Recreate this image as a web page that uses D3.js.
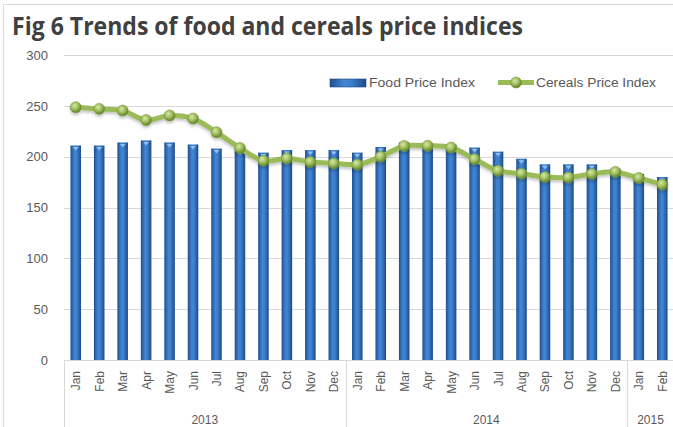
<!DOCTYPE html>
<html>
<head>
<meta charset="utf-8">
<script src="https://cdn.jsdelivr.net/npm/d3@7"></script>
<style>
  body { margin: 0; background: #fff; }
  svg { display: block; }
</style>
</head>
<body>
<svg id="chart" width="673" height="427"></svg>
<script>
var months = ["Jan","Feb","Mar","Apr","May","Jun","Jul","Aug","Sep","Oct","Nov","Dec",
              "Jan","Feb","Mar","Apr","May","Jun","Jul","Aug","Sep","Oct","Nov","Dec",
              "Jan","Feb"];
var years = [
  {label: "2013", from: 0, to: 12},
  {label: "2014", from: 12, to: 24},
  {label: "2015", from: 24, to: 26}
];
var foodIndex = [211, 211, 214, 216, 214, 212, 208, 206, 204, 206.5, 206.5, 206.5,
                 204, 209.5, 214, 213, 212, 209, 205, 198, 192.5, 192.5, 192.5, 188,
                 183, 180];
var cerealsIndex = [248.6, 247, 245.3, 236, 240.5, 237.5, 224, 208.5, 196, 198.2, 194.8, 193.4,
                    192.2, 200, 210.5, 210.7, 209, 197.5, 186.2, 183.3, 180, 179.5, 183, 185,
                    179, 172.6];
var yTicks = [0, 50, 100, 150, 200, 250, 300];

(function () {
  var svg = d3.select("#chart");
  var ids = d3.range(months.length);

  var x = d3.scaleBand().domain(ids).range([64, 674]).paddingInner(0.55).paddingOuter(0.275);
  var y = d3.scaleLinear().domain([0, 300]).range([360, 55]);
  var cx = function (i) { return x(i) + x.bandwidth() / 2; };
  var step = x.step();
  var left = 64;

  var defs = svg.append("defs");
  var bg = defs.append("linearGradient").attr("id", "barGrad").attr("x1", 0).attr("x2", 1).attr("y1", 0).attr("y2", 0);
  bg.append("stop").attr("offset", "0%").attr("stop-color", "#1f4f8f");
  bg.append("stop").attr("offset", "40%").attr("stop-color", "#4186d4");
  bg.append("stop").attr("offset", "60%").attr("stop-color", "#3c7fcc");
  bg.append("stop").attr("offset", "100%").attr("stop-color", "#1d4a86");
  var mg = defs.append("radialGradient").attr("id", "dotGrad").attr("cx", "40%").attr("cy", "35%").attr("r", "65%");
  mg.append("stop").attr("offset", "0%").attr("stop-color", "#d7e8a8");
  mg.append("stop").attr("offset", "55%").attr("stop-color", "#9bbb59");
  mg.append("stop").attr("offset", "100%").attr("stop-color", "#5f7d2a");
  var sh = defs.append("filter").attr("id", "shadow").attr("x", "-10%").attr("y", "-10%").attr("width", "120%").attr("height", "140%");
  sh.append("feDropShadow").attr("dx", 0).attr("dy", 2).attr("stdDeviation", 1.5).attr("flood-color", "#000").attr("flood-opacity", 0.25);

  // frame
  svg.append("path").attr("d", "M3.5,427V4.5H673").attr("fill", "none").attr("stroke", "#d9d9d9");

  // title
  svg.append("text")
    .attr("x", 12).attr("y", 35)
    .attr("font-family", "'Liberation Sans Narrow', 'Open Sans', sans-serif")
    .attr("font-weight", "bold").attr("font-size", 25)
    .attr("fill", "#404040")
    .attr("textLength", 511).attr("lengthAdjust", "spacingAndGlyphs")
    .text("Fig 6 Trends of food and cereals price indices");

  // gridlines
  svg.append("g").selectAll("line").data(yTicks.filter(function (d) { return d > 0; })).join("line")
    .attr("x1", left).attr("x2", 673)
    .attr("y1", function (d) { return Math.round(y(d)) + 0.5; })
    .attr("y2", function (d) { return Math.round(y(d)) + 0.5; })
    .attr("stroke", "#d9d9d9");

  // y axis
  var yAxis = svg.append("g").attr("transform", "translate(" + left + ",0)")
    .call(d3.axisLeft(y).tickValues(yTicks).tickSize(0).tickPadding(16));
  yAxis.select(".domain").remove();
  yAxis.selectAll("text").attr("font-family", "'Liberation Sans Narrow', 'Liberation Sans', sans-serif")
    .attr("font-size", 13).attr("fill", "#595959");

  // bars
  svg.append("g").selectAll("rect").data(foodIndex).join("rect")
    .attr("x", function (d, i) { return x(i); })
    .attr("y", function (d) { return y(d); })
    .attr("width", x.bandwidth())
    .attr("height", function (d) { return y(0) - y(d); })
    .attr("fill", "url(#barGrad)");
  svg.append("g").selectAll("path").data(foodIndex).join("path")
    .attr("d", function (d, i) {
      var c = cx(i), t = y(d);
      return "M" + (c - 3) + "," + (t + 1.5) + "L" + (c + 3) + "," + (t + 1.5) + "L" + c + "," + (t + 5) + "Z";
    })
    .attr("fill", "#a9cdf2").attr("opacity", 0.8);

  // x axis base line and year separators
  svg.append("line").attr("x1", left).attr("x2", 673).attr("y1", 360.5).attr("y2", 360.5).attr("stroke", "#d9d9d9");
  svg.append("g").selectAll("line").data(years).join("line")
    .attr("x1", function (d) { return Math.round(left + d.from * step) + 0.5; })
    .attr("x2", function (d) { return Math.round(left + d.from * step) + 0.5; })
    .attr("y1", 360).attr("y2", 427)
    .attr("stroke", "#d9d9d9");

  // month labels
  svg.append("g").selectAll("text").data(months).join("text")
    .attr("transform", function (d, i) { return "translate(" + (cx(i) + 4.5) + ",371) rotate(-90)"; })
    .attr("text-anchor", "end")
    .attr("font-family", "'Liberation Sans', sans-serif")
    .attr("font-size", 12).attr("fill", "#595959")
    .text(function (d) { return d; });

  // year labels
  svg.append("g").selectAll("text").data(years).join("text")
    .attr("x", function (d) { return left + (d.from + d.to) / 2 * step; })
    .attr("y", 424)
    .attr("text-anchor", "middle")
    .attr("font-family", "'Liberation Sans', sans-serif")
    .attr("font-size", 12).attr("fill", "#595959")
    .text(function (d) { return d.label; });

  // cereals line
  var line = d3.line().x(function (d, i) { return cx(i); }).y(function (d) { return y(d); })
    .curve(d3.curveCatmullRom.alpha(0.5));
  var lg = svg.append("g").attr("filter", "url(#shadow)");
  lg.append("path").datum(cerealsIndex)
    .attr("d", line).attr("fill", "none")
    .attr("stroke", "#9bbb59").attr("stroke-width", 5)
    .attr("stroke-linejoin", "round").attr("stroke-linecap", "round");
  lg.selectAll("circle").data(cerealsIndex).join("circle")
    .attr("cx", function (d, i) { return cx(i); })
    .attr("cy", function (d) { return y(d); })
    .attr("r", 5.5)
    .attr("fill", "url(#dotGrad)")
    .attr("stroke", "#7a9a3a").attr("stroke-width", 0.6);

  // legend
  var legend = svg.append("g").attr("font-family", "'Liberation Sans', sans-serif").attr("font-size", 12).attr("fill", "#595959");
  legend.append("rect").attr("x", 330).attr("y", 79).attr("width", 36).attr("height", 8).attr("fill", "url(#barGrad)");
  legend.append("rect").attr("x", 330).attr("y", 79).attr("width", 36).attr("height", 8)
    .attr("fill", "none").attr("stroke", "#1d4a86").attr("stroke-width", 0.6);
  legend.append("text").attr("x", 369).attr("y", 87).attr("textLength", 106).attr("lengthAdjust", "spacingAndGlyphs").text("Food Price Index");
  legend.append("line").attr("x1", 498).attr("x2", 534).attr("y1", 82.5).attr("y2", 82.5)
    .attr("stroke", "#9bbb59").attr("stroke-width", 5);
  legend.append("circle").attr("cx", 516).attr("cy", 82.5).attr("r", 5.5).attr("fill", "url(#dotGrad)")
    .attr("stroke", "#7a9a3a").attr("stroke-width", 0.6);
  legend.append("text").attr("x", 536).attr("y", 87).attr("textLength", 120).attr("lengthAdjust", "spacingAndGlyphs").text("Cereals Price Index");
})();
</script>
</body>
</html>
